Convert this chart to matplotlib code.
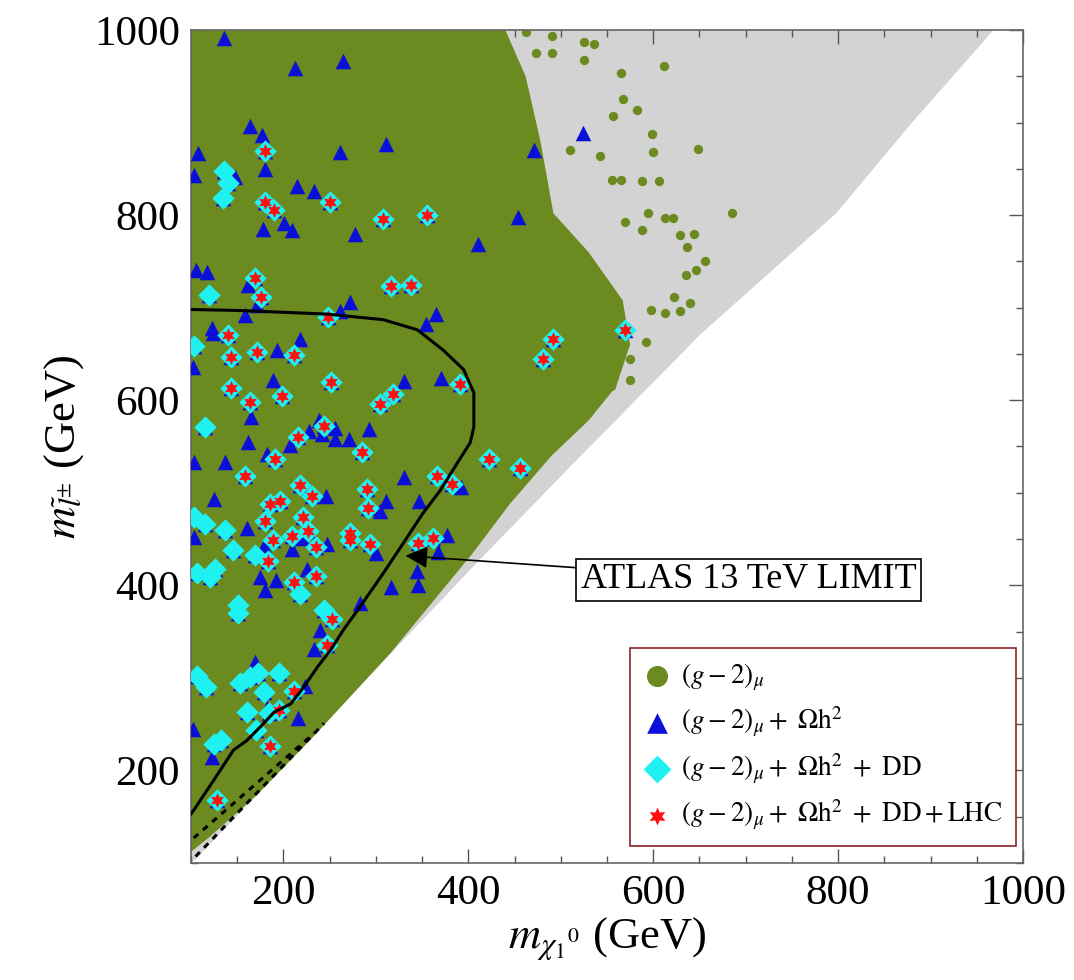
import matplotlib
matplotlib.use("Agg")
import matplotlib.pyplot as plt
from matplotlib.ticker import MultipleLocator

plt.rcParams["font.family"] = ["Liberation Serif", "DejaVu Serif"]
plt.rcParams["mathtext.fontset"] = "stix"

# --- data (GeV) ---
# outline of the dense light-grey scan region
gray_x = [100, 100, 968, 955, 880, 798, 652, 510, 405, 240, 105]
gray_y = [100, 1000, 1000, 985, 900, 802, 672, 528, 420, 246, 104]

# outline of the dense (g-2) region
green_x = [100, 440, 462, 478, 492, 530, 567, 575, 560, 530, 490, 445, 405, 316, 232, 170, 120, 100]
green_y = [1000, 1000, 950, 880, 802, 760, 708, 660, 615, 578, 540, 488, 435, 327, 236, 172, 128, 112]

# isolated (g-2) points at the edge of the green region
dots_x = [462, 490, 525, 536, 525, 473, 490, 565, 612, 567, 583, 556, 599, 600, 649, 542, 510,
          588, 606, 565, 555, 685, 613, 621, 644, 629, 637, 588, 594, 570, 656, 646, 635, 623,
          640, 613, 629, 598, 592, 575, 575, 554, 529]
dots_y = [998, 993, 987, 985, 968, 975, 975, 954, 961, 925, 914, 907, 888, 868, 871, 864, 870,
          837, 837, 838, 838, 802, 797, 797, 780, 779, 766, 784, 802, 793, 750, 741, 735, 712,
          705, 694, 696, 698, 663, 644, 622, 615, 586]

# (g-2) + relic density only
blue_x = [136, 213, 264, 164, 177, 108, 261, 311, 180, 148, 103, 215, 233, 178, 201, 209, 277,
          411, 105, 117, 162, 171, 272, 158, 261, 365, 354, 123, 471, 524, 454, 124, 218, 193,
          102, 189, 330, 371, 165, 239, 228, 242, 256, 293, 256, 271, 162, 207, 182, 137, 103,
          330, 392, 125, 246, 311, 347, 304, 161, 103, 220, 247, 179, 209, 300, 377, 367, 226,
          344, 175, 192, 346, 180, 316, 283, 240, 233, 169, 223, 182, 216, 102, 123]
blue_y = [991, 959, 967, 896, 887, 867, 868, 877, 850, 841, 843, 831, 826, 785, 792, 784, 780,
          769, 741, 738, 725, 703, 706, 692, 696, 693, 682, 678, 870, 889, 798, 673, 666, 654,
          636, 622, 621, 624, 582, 579, 567, 564, 570, 569, 558, 558, 555, 552, 542, 533, 533,
          517, 506, 493, 496, 491, 491, 480, 462, 452, 451, 445, 442, 439, 435, 454, 436, 418,
          415, 409, 406, 400, 395, 398, 381, 352, 331, 317, 291, 267, 257, 245, 215]

# + direct detection
cyan_x = [136, 140, 135, 119, 103, 115, 103, 115, 137, 145, 169, 107, 121, 126, 218, 151, 151,
          244, 107, 116, 153, 164, 172, 195, 179, 161, 184, 170, 125, 132]
cyan_y = [848, 835, 818, 714, 659, 571, 474, 466, 460, 438, 433, 413, 409, 418, 391, 379, 370,
          373, 302, 290, 294, 301, 305, 305, 285, 263, 262, 244, 229, 233]

# + LHC
red_x = [180, 180, 190, 250, 308, 355, 169, 176, 316, 338, 248, 140, 171, 143, 211, 252, 143,
         199, 164, 319, 305, 391, 244, 216, 191, 285, 422, 158, 218, 231, 290, 366, 382, 186,
         196, 292, 221, 180, 227, 209, 189, 272, 272, 294, 235, 346, 362, 183, 235, 212, 253,
         247, 211, 195, 185, 128, 569, 492, 481, 456]
red_y = [869, 814, 806, 814, 796, 800, 732, 712, 723, 724, 690, 670, 652, 647, 649, 620, 613,
         605, 598, 607, 596, 617, 572, 560, 537, 544, 537, 518, 508, 496, 504, 518, 509, 488,
         491, 484, 474, 470, 459, 453, 449, 456, 449, 445, 441, 446, 451, 426, 410, 404, 364,
         336, 286, 265, 226, 168, 676, 666, 644, 527]

# ATLAS 13 TeV exclusion contour
atlas_x = [100, 150, 200, 248, 308, 345, 373, 395, 406, 406, 402, 388, 370, 351, 330, 308, 283,
           265, 251, 237, 222, 208, 190, 175, 160, 146, 125, 103, 100]
atlas_y = [698, 697, 695, 693, 687, 676, 654, 633, 608, 571, 554, 532, 503, 478, 446, 413, 377,
           352, 330, 312, 290, 272, 263, 247, 232, 222, 190, 157, 153]

# dashed kinematic lines
dash1_x = [103, 233]
dash1_y = [127, 240]
dash2_x = [105, 244]
dash2_y = [107, 251]

GREEN = "#6b8a1f"
GRAY = "#d3d3d3"

fig = plt.figure(figsize=(10.74, 9.8), dpi=100)
ax = fig.add_axes([0.1778, 0.1194, 0.7747, 0.85])

ax.fill(gray_x, gray_y, color=GRAY, lw=0, zorder=1)
ax.scatter(dots_x, dots_y, s=45, color=GREEN, lw=0, zorder=2)
ax.fill(green_x, green_y, color=GREEN, lw=0, zorder=2)
ax.scatter([], [], s=130, color=GREEN, marker="o", label=r"$(g-2)_{\mu}$")

all_blue_x = blue_x + cyan_x + red_x
all_blue_y = blue_y + cyan_y + red_y
ax.scatter(all_blue_x, all_blue_y, s=125, marker="^", color="#0a10d8", lw=0, zorder=4,
           label=r"$(g-2)_{\mu}+\ \Omega\mathrm{h}^2$")
ax.scatter(cyan_x + red_x, cyan_y + red_y, s=130, marker="D", color="#1ff0f0", lw=0,
           zorder=5, label=r"$(g-2)_{\mu}+\ \Omega\mathrm{h}^2\ +\ \mathrm{DD}$")
ax.scatter(red_x, red_y, s=115, marker=(6, 1, 0), color="#ff1010", lw=0, zorder=6,
           label=r"$(g-2)_{\mu}+\ \Omega\mathrm{h}^2\ +\ \mathrm{DD}+\mathrm{LHC}$")

ax.plot(atlas_x, atlas_y, color="black", lw=2.2, zorder=7)
ax.plot(dash1_x, dash1_y, color="black", lw=2.2, ls=(0, (2, 2)), zorder=7)
ax.plot(dash2_x, dash2_y, color="black", lw=2.2, ls=(0, (2, 2)), zorder=7)

ax.annotate("ATLAS 13 TeV LIMIT", xy=(332, 432), xytext=(703, 406),
            fontsize=26, ha="center", va="center", zorder=8,
            bbox=dict(boxstyle="square,pad=0.12", fc="white", ec="black", lw=1.2),
            arrowprops=dict(arrowstyle="-|>", color="black", lw=1.2, mutation_scale=34,
                            shrinkA=0, shrinkB=0))

ax.set_xlim(100, 1000)
ax.set_ylim(100, 1000)
ax.xaxis.set_major_locator(MultipleLocator(200))
ax.yaxis.set_major_locator(MultipleLocator(200))
ax.xaxis.set_minor_locator(MultipleLocator(50))
ax.yaxis.set_minor_locator(MultipleLocator(50))
ax.tick_params(which="both", direction="in", top=True, right=True, color="#555555",
               labelsize=31, pad=8)
ax.tick_params(which="major", length=10, width=1)
ax.tick_params(which="minor", length=5, width=1)
for sp in ax.spines.values():
    sp.set_color("#666666")
    sp.set_linewidth(1.2)

ax.set_xlabel(r"$m_{\chi_1{}^0}$ (GeV)", fontsize=32, labelpad=2)
ax.set_ylabel(r"$m_{\tilde{l}^{\pm}}$ (GeV)", fontsize=32, labelpad=6)

leg = ax.legend(loc="lower right", bbox_to_anchor=(0.9916, 0.0204), fontsize=19.5,
                frameon=True, fancybox=False, framealpha=1, edgecolor="#8b2525",
                labelspacing=0.45, handletextpad=0.4, borderpad=0.5, handlelength=1.0,
                borderaxespad=0, scatterpoints=1)
for h, sz in zip(leg.legend_handles, [200, 220, 200, 170]):
    h.set_sizes([sz])
leg.get_frame().set_linewidth(1.2)
leg.set_zorder(10)

fig.savefig("out.png", dpi=100)
